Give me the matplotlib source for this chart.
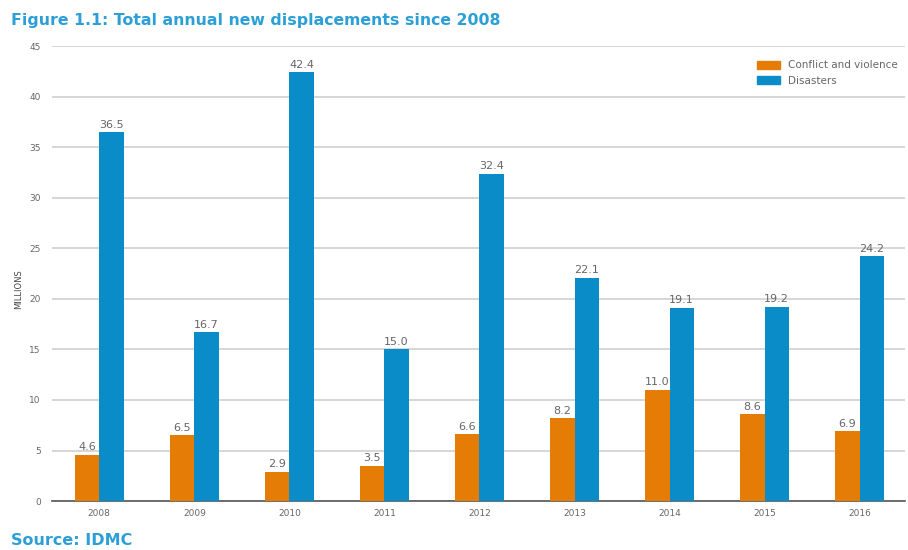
import numpy as np
import matplotlib.pyplot as plt
from matplotlib.patches import Patch

years = ["2008", "2009", "2010", "2011", "2012", "2013", "2014", "2015", "2016"]
conflict = [4.6, 6.5, 2.9, 3.5, 6.6, 8.2, 11.0, 8.6, 6.9]
disasters = [36.5, 16.7, 42.4, 15.0, 32.4, 22.1, 19.1, 19.2, 24.2]

orange = "#e57c06"
blue = "#0a8cc8"
title_blue = "#2b9fd6"
grey = "#666666"

fig = plt.figure(figsize=(9.08, 5.5), dpi=100)
ax = fig.add_axes([0.057, 0.089, 0.94, 0.827])

x = np.arange(len(years))
w = 0.255
ax.bar(x - w / 2, conflict, w, color=orange, zorder=3)
ax.bar(x + w / 2, disasters, w, color=blue, zorder=3)

for xi, v in zip(x, conflict):
    ax.text(xi - w / 2, v + 0.25, f"{v:.1f}", ha="center", va="bottom",
            fontsize=8, color=grey, zorder=4)
for xi, v in zip(x, disasters):
    ax.text(xi + w / 2, v + 0.25, f"{v:.1f}", ha="center", va="bottom",
            fontsize=8, color=grey, zorder=4)

ax.set_xlim(-0.5, len(years) - 0.52)
ax.set_ylim(0, 45)
ax.set_yticks(np.arange(0, 46, 5))
ax.set_xticks(x)
ax.set_xticklabels(years)
ax.tick_params(axis="both", length=0, labelsize=6.5, colors=grey)
ax.tick_params(axis="y", pad=8)
ax.tick_params(axis="x", pad=6)
ax.yaxis.grid(True, color="#d0d0d0", linewidth=1.2, zorder=0)
ax.set_axisbelow(True)
for s in ["top", "right", "left"]:
    ax.spines[s].set_visible(False)
ax.spines["bottom"].set_color("#555555")
ax.spines["bottom"].set_linewidth(1.2)

fig.text(0.02, 0.475, "MILLIONS", rotation=90, ha="center", va="center",
         fontsize=6, color="#444444")

ax.legend(handles=[Patch(color=orange, label="Conflict and violence"),
                   Patch(color=blue, label="Disasters")],
          loc="upper right", bbox_to_anchor=(1.0, 0.985), frameon=False,
          fontsize=7.5, labelcolor=grey, handlelength=2.2, handleheight=0.8,
          borderaxespad=0.3)

fig.text(0.012, 0.962, "Figure 1.1: Total annual new displacements since 2008",
         fontsize=11.3, color=title_blue, ha="left", va="center",
         fontweight="semibold")
fig.text(0.012, 0.018, "Source: IDMC", fontsize=11.5, color=title_blue,
         ha="left", va="center", fontweight="semibold")

fig.savefig("out.png", dpi=100)
